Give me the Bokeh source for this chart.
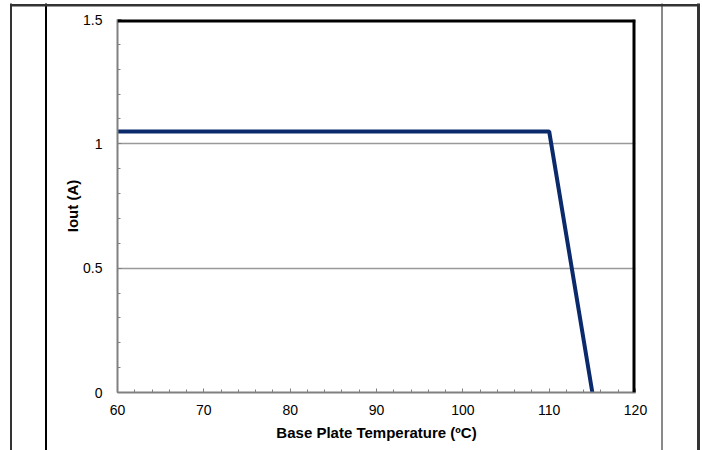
from bokeh.plotting import figure
from bokeh.models import Range1d, SingleIntervalTicker, Span
from bokeh.embed import file_html
from bokeh.resources import INLINE

# data
temperature = [60, 110, 115]
iout = [1.05, 1.05, 0.0]
y_tick_labels = {0: "0", 0.5: "0.5", 1: "1", 1.5: "1.5"}

FONT = "Liberation Sans"

p = figure(width=702, height=450, output_backend="svg", toolbar_location=None,
           x_range=Range1d(60, 120), y_range=Range1d(0, 1.5),
           min_border_left=117, min_border_right=67, min_border_top=19, min_border_bottom=58,
           background_fill_color="white", border_fill_color=None)
p.outline_line_color = None

p.line(temperature, iout, line_color="#0b2a6b", line_width=4)

# axes
p.xaxis.ticker = SingleIntervalTicker(interval=10, num_minor_ticks=5)
p.yaxis.ticker = SingleIntervalTicker(interval=0.5, num_minor_ticks=5)
p.yaxis.major_label_overrides = y_tick_labels
for ax in (p.xaxis[0], p.yaxis[0]):
    ax.axis_line_color = "#808080"
    ax.axis_line_width = 2
    ax.major_tick_in = 4
    ax.major_tick_out = 0
    ax.minor_tick_in = 3
    ax.minor_tick_out = 0
    ax.major_tick_line_color = "#808080"
    ax.minor_tick_line_color = "#808080"
    ax.major_label_text_font = FONT
    ax.major_label_text_font_size = "14px"
    ax.major_label_text_color = "black"
    ax.axis_label_text_font = FONT
    ax.axis_label_text_font_size = "15px"
    ax.axis_label_text_font_style = "bold"
    ax.axis_label_text_color = "black"

p.xaxis.axis_label = "Base Plate Temperature (ºC)"
p.yaxis.axis_label = "Iout (A)"
p.xaxis.major_label_standoff = 12
p.yaxis.major_label_standoff = 15
p.xaxis.axis_label_standoff = 6
p.yaxis.axis_label_standoff = -1

p.xgrid.grid_line_color = None
p.ygrid.grid_line_color = "#999999"
p.ygrid.grid_line_width = 1.5

# top / right frame lines (half of the width lies outside the frame and is clipped)
p.add_layout(Span(location=1.5, dimension="width", line_color="black", line_width=6))
p.add_layout(Span(location=120, dimension="height", line_color="black", line_width=6))

# page decorations (outer box and side rules) drawn behind the transparent canvas border
p.styles = {
    "background-color": "#ffffff",
    "background-image": ("linear-gradient(#333333, #333333), "
                         "linear-gradient(#ffffff, #ffffff), "
                         "linear-gradient(to right, #ffffff 0px, #ffffff 10px, #333333 10px, #333333 12.5px, "
                         "#ffffff 12.5px, #ffffff 45.5px, #000000 45.5px, #000000 46.8px, #ffffff 46.8px, "
                         "#ffffff 661px, #8a8a8a 661px, #8a8a8a 663px, #ffffff 663px, #ffffff 697px, "
                         "#333333 697px, #333333 700.5px, #ffffff 700.5px)"),
    "background-position": "10px 3.5px, 0px 0px, 0px 0px",
    "background-size": "690px 2.5px, 100% 3.5px, 100% 100%",
    "background-repeat": "no-repeat",
}

open("out.html", "w").write(file_html(p, INLINE))
